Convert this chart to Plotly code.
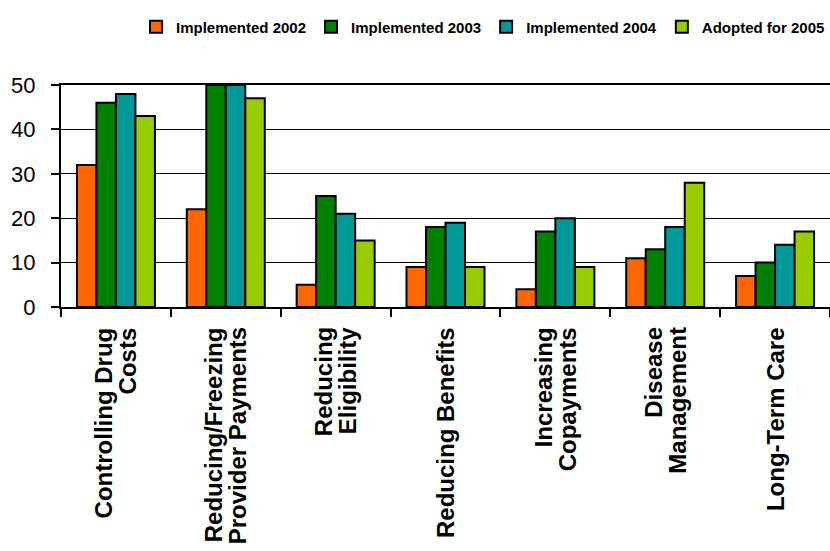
import plotly.graph_objects as go

# Policy areas (x categories); <br> splits each label over two lines
categories = [
    "Controlling Drug<br>Costs",
    "Reducing/Freezing<br>Provider Payments",
    "Reducing<br>Eligibility",
    "Reducing Benefits",
    "Increasing<br>Copayments",
    "Disease<br>Management",
    "Long-Term Care",
]

# Number of states per action and year
implemented_2002 = [32, 22, 5, 9, 4, 11, 7]
implemented_2003 = [46, 50, 25, 18, 17, 13, 10]
implemented_2004 = [48, 50, 21, 19, 20, 18, 14]
adopted_2005 = [43, 47, 15, 9, 9, 28, 17]

series_names = ["Implemented 2002", "Implemented 2003", "Implemented 2004", "Adopted for 2005"]
series_values = [implemented_2002, implemented_2003, implemented_2004, adopted_2005]
series_colors = ["#FF6600", "#008000", "#009999", "#99CC00"]

y_ticks = [0, 10, 20, 30, 40, 50]

FONT = "Liberation Sans, Arial, Helvetica, sans-serif"
LABEL_LINE_GAP = 24  # px between the two lines of a rotated category label

fig = go.Figure()
for name, vals, color in zip(series_names, series_values, series_colors):
    fig.add_trace(go.Bar(
        name=name,
        x=categories,
        y=vals,
        marker=dict(color=color, line=dict(color="black", width=2)),
    ))

# Category labels, rotated; each line centred on its own so the lines stay
# centred against each other with a tight line spacing
for cat in categories:
    lines = cat.split("<br>")
    n = len(lines)
    for i, line in enumerate(lines):
        fig.add_annotation(
            x=cat, xref="x",
            y=0, yref="paper",
            yanchor="top", xanchor="center",
            yshift=-18,
            xshift=(i - (n - 1) / 2) * LABEL_LINE_GAP,
            text="<b>" + line + "</b>",
            textangle=-90,
            showarrow=False,
            font=dict(family=FONT, size=24, color="black"),
        )

fig.update_layout(
    width=830,
    height=551,
    margin=dict(l=61, r=0, t=85, b=244),
    paper_bgcolor="white",
    plot_bgcolor="white",
    barmode="group",
    bargap=0.29,
    bargroupgap=0,
    font=dict(family=FONT, color="black"),
    legend=dict(
        orientation="h",
        x=1.0, xanchor="right",
        y=1.261, yanchor="middle",
        font=dict(family=FONT, size=15, color="black", weight="bold"),
        itemwidth=30,
        bgcolor="rgba(0,0,0,0)",
    ),
    xaxis=dict(
        type="category",
        showticklabels=False,
        tickson="boundaries",
        ticks="outside",
        ticklen=8,
        tickwidth=2,
        tickcolor="black",
        showline=True,
        linecolor="black",
        linewidth=2,
        mirror=True,
        showgrid=False,
    ),
    yaxis=dict(
        range=[0, 50],
        tickvals=y_ticks,
        ticks="outside",
        ticklen=8,
        tickwidth=1.5,
        tickcolor="black",
        ticklabelstandoff=11,
        tickfont=dict(family=FONT, size=22, color="black"),
        showline=True,
        linecolor="black",
        linewidth=2,
        showgrid=True,
        gridcolor="black",
        gridwidth=1,
        zeroline=False,
    ),
)

fig.write_html("out.html")
